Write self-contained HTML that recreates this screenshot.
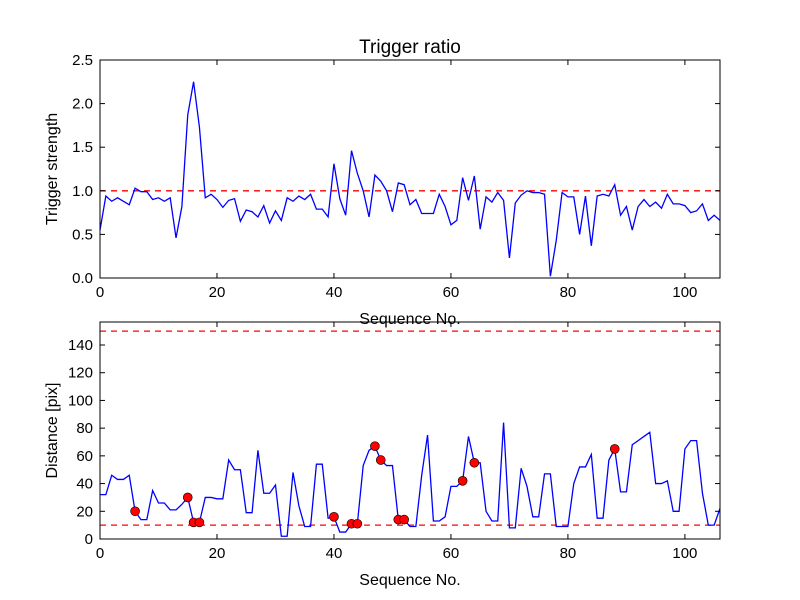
<!DOCTYPE html>
<html><head><meta charset="utf-8"><style>
body{margin:0;background:#fff;}
svg{display:block;font-family:"Liberation Sans",sans-serif;}
</style></head><body>
<svg id="fig" width="800" height="600"></svg>
<script>
const seqTop=[0.55,0.94,0.88,0.92,0.88,0.84,1.03,0.99,0.99,0.90,0.92,0.88,0.92,0.46,0.82,1.87,2.25,1.73,0.92,0.96,0.90,0.81,0.89,0.91,0.65,0.78,0.76,0.70,0.83,0.63,0.77,0.66,0.92,0.88,0.94,0.90,0.96,0.79,0.79,0.70,1.31,0.91,0.72,1.46,1.20,1.00,0.70,1.18,1.11,1.00,0.76,1.09,1.07,0.84,0.90,0.74,0.74,0.74,0.96,0.82,0.61,0.66,1.15,0.89,1.17,0.56,0.93,0.87,0.98,0.89,0.23,0.86,0.95,1.00,0.98,0.98,0.96,0.02,0.43,0.98,0.93,0.93,0.50,0.94,0.37,0.94,0.96,0.94,1.07,0.72,0.82,0.55,0.82,0.90,0.82,0.87,0.80,0.96,0.85,0.85,0.83,0.75,0.77,0.85,0.66,0.72,0.66];
const distance=[32,32,46,43,43,46,20,14,14,35,26,26,21,21,25,30,12,12,30,30,29,29,57,50,50,19,19,64,33,33,39,2,2,48,24,9,9,54,54,15,16,5,5,11,11,53,64,67,57,53,53,14,14,9,9,46,75,13,13,16,38,38,42,74,55,55,20,13,13,84,8,8,51,38,16,16,47,47,9,9,9,40,52,52,61,15,15,57,65,34,34,68,71,74,77,40,40,42,20,20,65,71,71,33,10,10,22];
const markerIdx=[6,15,16,17,40,43,44,47,48,51,52,62,64,88];
const topThreshold=[1.0];
const distThresholds=[10,150];
const xTicks=[0,20,40,60,80,100];
const topYTicks=[0,0.5,1.0,1.5,2.0,2.5];
const botYTicks=[0,20,40,60,80,100,120,140];

const NS="http://www.w3.org/2000/svg";
const svg=document.getElementById('fig');
function el(t,a,p){const e=document.createElementNS(NS,t);for(const k in a)e.setAttribute(k,a[k]);(p||svg).appendChild(e);return e;}
const X0=100,X1=720,XMAX=106;
const xs=v=>X0+v/XMAX*(X1-X0);

function panel(name,top,bot,ymax,yTicks,fmt,data,thr,ylabel){
  const ys=v=>bot-v/ymax*(bot-top);
  const g=el('g',{});
  
  
  thr.forEach(t=>{const l=el('line',{x1:X0,x2:X1,y1:ys(t),y2:ys(t),stroke:'#f00','stroke-width':1.3,'stroke-dasharray':'6,5'},g);
    
    });
  const pts=data.map((v,i)=>xs(i).toFixed(2)+','+ys(v).toFixed(2)).join(' ');
  const pl=el('polyline',{points:pts,fill:'none',stroke:'#00f','stroke-width':1.3},g);
  
  
  const fr=el('rect',{x:X0,y:top,width:X1-X0,height:bot-top,fill:'none',stroke:'#000','stroke-width':1},g);
  
  
  xTicks.forEach(t=>{const x=xs(t);
    el('line',{x1:x,x2:x,y1:bot,y2:bot-5,stroke:'#000'},g);
    el('line',{x1:x,x2:x,y1:top,y2:top+5,stroke:'#000'},g);
    const tx=el('text',{x:x,y:bot+19,'font-size':15,'text-anchor':'middle'},g);tx.textContent=t;
    
    });
  yTicks.forEach(t=>{const y=ys(t);
    el('line',{x1:X0,x2:X0+5,y1:y,y2:y,stroke:'#000'},g);
    el('line',{x1:X1,x2:X1-5,y1:y,y2:y,stroke:'#000'},g);
    const tx=el('text',{x:X0-7,y:y+5,'font-size':15,'text-anchor':'end'},g);tx.textContent=fmt(t);
    
    });
  const xl=el('text',{x:410,y:bot+46,'font-size':16,'text-anchor':'middle'},g);xl.textContent='Sequence No.';
  
  
  const cy=(top+bot)/2;
  const yl=el('text',{x:57,y:cy,'font-size':16,'text-anchor':'middle',transform:`rotate(-90 57 ${cy})`},g);yl.textContent=ylabel;
  
  
  return ys;
}
const t=el('text',{x:410,y:53,'font-size':19,'text-anchor':'middle'});t.textContent='Trigger ratio';


panel('trigger-panel',60,278,2.5,topYTicks,v=>v.toFixed(1),seqTop,topThreshold,'Trigger strength');
const ys2=panel('distance-panel',322,539,156.6,botYTicks,v=>String(v),distance,distThresholds,'Distance [pix]');
markerIdx.forEach(i=>{const c=el('circle',{cx:xs(i),cy:ys2(distance[i]),r:4.5,fill:'#f00',stroke:'#000','stroke-width':0.6});
  
  });
</script>
</body></html>
